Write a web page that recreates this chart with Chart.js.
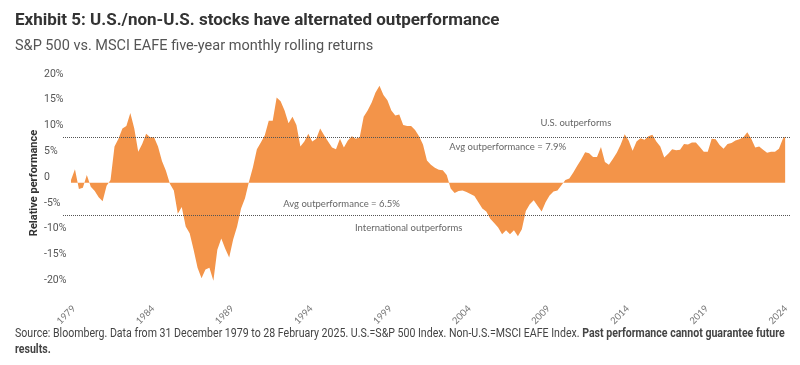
<!DOCTYPE html>
<html>
<head>
<meta charset="utf-8">
<script src="https://cdn.jsdelivr.net/npm/chart.js@4.4.1/dist/chart.umd.min.js"></script>
<style>
body { margin: 0; background: #fff; width: 800px; height: 365px; overflow: hidden; position: relative; font-family: Roboto, "Liberation Sans", sans-serif; }
#myChart { position: absolute; left: 0; top: 0; }
#cim { position: absolute; left: 15px; top: 9px; font-size: 17px; font-weight: bold; color: #333; white-space: nowrap; }
#alcim { position: absolute; left: 15px; top: 37px; font-size: 14.5px; color: #555; white-space: nowrap; }
#tengely { position: absolute; left: 33px; top: 183px; font-size: 11px; font-weight: bold; color: #333; white-space: nowrap;
           transform: translate(-50%, -50%) rotate(-90deg); }
.forras { position: absolute; left: 15px; font-size: 12px; line-height: 16px; color: #444; white-space: nowrap;
          transform-origin: 0 50%; }
#forras1 { top: 325px; }
#forras2 { top: 341px; }
</style>
</head>
<body>
<canvas id="myChart" width="800" height="365"></canvas>
<div id="cim">Exhibit 5: U.S./non-U.S. stocks have alternated outperformance</div>
<div id="alcim">S&amp;P 500 vs. MSCI EAFE five-year monthly rolling returns</div>
<div id="tengely">Relative performance</div>
<div class="forras" id="forras1">Source: Bloomberg. Data from 31 December 1979 to 28 February 2025. U.S.=S&amp;P 500 Index. Non-U.S.=MSCI EAFE Index. <b>Past performance cannot guarantee future</b></div>
<div class="forras" id="forras2"><b>results.</b></div>
<script>
// relative performance (%), read quarterly from Dec 1979, last value = Feb 2025
var ertekek = [
    0.5, 2.6, -1.2, -1.0, 1.5, -0.8, -1.6, -2.8, -3.6, -0.6,
    0.5, 7.0, 8.5, 10.5, 11.0, 13.5, 10.5, 6.0, 7.5, 9.5,
    8.8, 8.8, 7.0, 4.2, 2.3, -0.2, -1.5, -6.0, -4.7, -8.5,
    -9.8, -13.0, -16.5, -18.5, -16.8, -16.5, -19.0, -13.0, -10.8, -12.8,
    -14.5, -11.0, -8.5, -5.0, -3.0, 0.2, 3.0, 6.5, 7.8, 9.2,
    12.0, 12.0, 16.5, 15.8, 14.0, 11.5, 12.8, 11.2, 7.0, 8.0,
    9.5, 8.0, 8.5, 10.5, 9.2, 8.0, 6.8, 6.5, 8.5, 6.8,
    8.2, 9.0, 8.5, 8.8, 12.8, 14.0, 15.5, 17.5, 18.8, 17.0,
    16.0, 14.0, 13.0, 13.2, 11.2, 11.0, 11.0, 10.2, 9.0, 7.4,
    4.3, 3.5, 2.9, 2.5, 2.4, 1.5, -1.1, -2.0, -1.6, -1.5,
    -1.8, -2.2, -2.6, -3.8, -5.0, -5.6, -7.0, -7.8, -8.7, -10.0,
    -9.2, -10.0, -9.2, -10.4, -9.0, -5.5, -4.2, -3.4, -4.5, -5.6,
    -3.8, -2.5, -1.7, -1.5, -0.5, 0.5, 0.8, 2.0, 3.3, 4.5,
    5.9, 5.7, 5.0, 5.0, 6.9, 4.0, 3.5, 4.6, 5.8, 7.4,
    9.4, 8.2, 6.2, 8.0, 8.6, 8.3, 9.0, 9.3, 8.0, 7.0,
    4.9, 5.6, 6.5, 6.3, 6.4, 7.5, 7.4, 7.8, 7.8, 6.9,
    6.0, 6.0, 8.5, 8.4, 7.3, 6.6, 7.5, 7.7, 8.2, 8.4,
    8.8, 9.8, 8.5, 6.8, 7.0, 6.4, 5.8, 6.0, 6.0, 6.6,
    8.5, 9.0
];

// months since Dec 1979 (quarterly steps, last one Feb 2025)
var honapok = [];
for (var i = 0; i < ertekek.length - 1; i++) {
    honapok.push(i * 3);
}
honapok.push(542);

var evTickek = [0, 60, 120, 180, 240, 300, 360, 420, 480, 540];
var evCimkek = ["1979", "1984", "1989", "1994", "1999", "2004", "2009", "2014", "2019", "2024"];
var yTickek = [20, 15, 10, 5, 0, -5, -10, -15, -20];

// dotted average lines as they sit in the picture
var usVonal = 8.9;
var intlVonal = -6.2;

// annotation texts: [text, month, value, align]
var feliratok = [
    ["U.S. outperforms", 383, 11.6, "center"],
    ["Avg outperformance = 7.9%", 287, 6.9, "left"],
    ["Avg outperformance = 6.5%", 161, -4.2, "left"],
    ["International outperforms", 215.4, -8.7, "left"]
];

var pontok = [];
for (i = 0; i < ertekek.length; i++) {
    pontok.push({ x: honapok[i], y: ertekek[i] });
}

// source lines are condensed in the original, squeeze them to the same width
var sor1 = document.getElementById("forras1");
var sor2 = document.getElementById("forras2");
var szukites = 770 / sor1.scrollWidth;
sor1.style.transform = "scaleX(" + szukites + ")";
sor2.style.transform = "scaleX(" + szukites + ")";

// draws the dotted lines and the small texts
var jegyzetek = {
    id: "jegyzetek",
    afterDatasetsDraw: function (chart) {
        var ctx = chart.ctx;
        var xs = chart.scales.x;
        var ys = chart.scales.y;
        ctx.save();
        ctx.strokeStyle = "#555";
        ctx.lineWidth = 1;
        ctx.setLineDash([1, 1]);
        [usVonal, intlVonal].forEach(function (v) {
            var y = Math.round(ys.getPixelForValue(v)) + 0.5;
            ctx.beginPath();
            ctx.moveTo(63, y);
            ctx.lineTo(790, y);
            ctx.stroke();
        });
        ctx.setLineDash([]);
        ctx.fillStyle = "#666";
        ctx.font = "9.5px Lato, 'Open Sans', sans-serif";
        ctx.textBaseline = "middle";
        feliratok.forEach(function (f) {
            ctx.textAlign = f[3];
            ctx.fillText(f[0], xs.getPixelForValue(f[1]), ys.getPixelForValue(f[2]));
        });
        ctx.restore();
    }
};

new Chart("myChart", {
    type: "line",
    data: {
        datasets: [{
            data: pontok,
            fill: "origin",
            backgroundColor: "#F39449",
            borderWidth: 0,
            pointRadius: 0,
            tension: 0
        }]
    },
    options: {
        responsive: false,
        animation: false,
        layout: { padding: { left: 44, top: 79.5, right: 12, bottom: 39.1 } },
        plugins: { legend: { display: false }, tooltip: { enabled: false } },
        scales: {
            x: {
                type: "linear",
                min: 0,
                max: 542,
                grid: { display: false },
                border: { display: false },
                afterBuildTicks: function (scale) {
                    scale.ticks = evTickek.map(function (v) { return { value: v }; });
                },
                afterFit: function (scale) { scale.height = 40; },
                ticks: {
                    autoSkip: false,
                    minRotation: 45,
                    maxRotation: 45,
                    padding: 9,
                    labelOffset: 3,
                    color: "#777",
                    font: { family: "Lato, 'Open Sans', sans-serif", size: 9.5 },
                    callback: function (v) { return evCimkek[evTickek.indexOf(v)]; }
                }
            },
            y: {
                min: -20,
                max: 20,
                grid: { display: false },
                border: { display: false },
                afterBuildTicks: function (scale) {
                    scale.ticks = yTickek.map(function (v) { return { value: v }; });
                },
                afterFit: function (scale) { scale.width = 27; },
                ticks: {
                    crossAlign: "far",
                    labelOffset: -5.5,
                    color: "#555",
                    font: { family: "Roboto, sans-serif", size: 10.5 },
                    callback: function (v) { return v === 0 ? "0" : v + "%"; }
                }
            }
        }
    },
    plugins: [jegyzetek]
});
</script>
</body>
</html>
